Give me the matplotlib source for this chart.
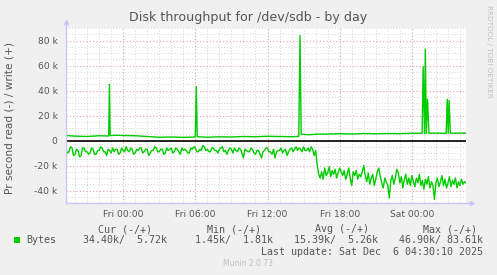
import matplotlib
matplotlib.use("Agg")
import matplotlib.pyplot as plt
import numpy as np
from matplotlib.ticker import MultipleLocator, FixedLocator, FuncFormatter

# ---------------- data (k = thousands of bytes per second) ----------------
title = "Disk throughput for /dev/sdb - by day"
ylabel = "Pr second read (-) / write (+)"

# hours relative to Fri 00:00
x_start_hour = -4.75
x_end_hour = 28.5
read_step_hours = 0.125

read_k = [
    7, 10, 9, 5, 6, 12, 11, 7, 8, 13, 12, 6, 6, 9, 9, 11,
    10, 6, 7, 11, 11, 8, 8, 5, 6, 9, 9, 12, 7, 8, 10, 6,
    9, 7, 7, 11, 10, 6, 8, 9, 5, 8, 9, 6, 7, 11, 10, 7,
    8, 6, 6, 10, 9, 7, 7, 12, 10, 8, 8, 5, 6, 9, 9, 7,
    7, 11, 10, 6, 8, 7, 6, 10, 9, 6, 7, 9, 11, 6, 8, 7,
    8, 10, 10, 6, 7, 5, 6, 9, 9, 7, 8, 4, 5, 8, 7, 9,
    9, 6, 6, 8, 8, 10, 7, 6, 5, 9, 8, 11, 8, 6, 7, 10,
    6, 8, 9, 6, 7, 10, 14, 7, 8, 9, 9, 6, 7, 10, 11, 8,
    8, 11, 14, 9, 8, 6, 6, 9, 9, 11, 7, 14, 9, 8, 8, 6,
    10, 8, 7, 12, 9, 7, 6, 9, 7, 5, 8, 6, 7, 9, 5, 8,
    8, 6, 9, 5, 7, 12, 8,
    19, 27, 30, 25, 31, 22, 28, 26, 21, 29, 24, 27, 23, 30, 26, 22,
    25, 28, 24, 31, 27, 22, 30, 36, 25, 28, 24, 31, 27, 29, 25, 20,
    28, 33, 26, 35, 30, 27, 36, 31, 25, 22, 29, 34, 38, 30, 33, 36,
    46, 32, 28, 35, 30, 23, 26, 34, 29, 38, 31, 27, 35, 30, 36, 28,
    33, 37, 30, 34, 27, 36, 32, 39, 31, 35, 29, 38, 33, 36, 47, 34,
    30, 37, 33, 28, 36, 31, 38, 34, 29, 37, 32, 35, 30, 38, 33, 36,
    31, 35, 33, 34,
]

write_hours = [
    -4.75, -4.0, -3.0, -2.0, -1.2, -1.14, -1.08, -0.5, 0.0, 1.0, 2.0, 3.0,
    4.0, 5.0, 6.0, 6.08, 6.16, 7.0, 8.0, 9.0, 10.0, 11.0, 12.0, 13.0,
    14.0, 14.6, 14.7, 14.8, 15.5, 16.0, 17.0, 18.0, 19.0, 20.0, 21.0, 22.0,
    23.0, 24.0, 24.85, 24.94, 25.05, 25.12, 25.2, 25.3, 25.42, 25.5, 25.6, 26.0,
    26.85, 26.94, 27.02, 27.1, 27.2, 27.6, 28.0, 28.5,
]
write_k = [
    4.0, 3.5, 3.2, 3.8, 3.6, 45, 4.0, 4.2, 4.0, 3.8, 3.2, 2.6,
    2.8, 2.5, 2.8, 43, 3.0, 2.6, 3.0, 2.8, 3.2, 3.0, 3.4, 3.2,
    3.0, 3.3, 84, 5.0, 4.6, 5.0, 5.2, 5.4, 5.2, 5.6, 5.4, 5.6,
    5.5, 5.8, 5.8, 59, 5.5, 73, 5.6, 33, 5.8, 6.0, 5.8, 5.9,
    5.8, 33, 5.8, 32, 5.9, 5.8, 6.0, 5.8,
]

xtick_hours = [0, 6, 12, 18, 24]
xtick_labels = ["Fri 00:00", "Fri 06:00", "Fri 12:00", "Fri 18:00", "Sat 00:00"]
ytick_values = [-40, -20, 0, 20, 40, 60, 80]

legend_headers = ["Cur (-/+)", "Min (-/+)", "Avg (-/+)", "Max (-/+)"]
legend_series = "Bytes"
legend_values = ["34.40k/  5.72k", "1.45k/  1.81k", "15.39k/  5.26k", "46.90k/ 83.61k"]
last_update = "Last update: Sat Dec  6 04:30:10 2025"
footer = "Munin 2.0.73"
side_text = "RRDTOOL / TOBI OETIKER"

# ---------------- style ----------------
W, H = 497, 275
BG = "#F0F0F0"
GREEN = "#00CC00"
TXT = "#555555"
AXC = "#C8C8F8"

fig = plt.figure(figsize=(W / 100, H / 100), dpi=100, facecolor=BG)
ax = fig.add_axes([66 / W, 1 - 203 / H, 400 / W, 175 / H])
ax.set_facecolor("white")
ax.set_xlim(x_start_hour, x_end_hour)
ax.set_ylim(-50, 90)

for s in ax.spines.values():
    s.set_visible(False)

# grid
ax.xaxis.set_major_locator(FixedLocator(xtick_hours))
ax.xaxis.set_minor_locator(MultipleLocator(1))
ax.yaxis.set_major_locator(FixedLocator(ytick_values))
ax.yaxis.set_minor_locator(MultipleLocator(5))
ax.grid(which="minor", color="#D4D4D4", linestyle=(0, (1, 2)), linewidth=0.7)
ax.grid(which="major", color="#E8A0A0", linestyle=(0, (1, 2)), linewidth=0.8)
ax.set_axisbelow(True)

ax.set_xticks(xtick_hours)
ax.set_xticklabels(xtick_labels)
ax.yaxis.set_major_formatter(FuncFormatter(lambda v, p: "0" if v == 0 else f"{int(v)} k"))
ax.tick_params(axis="both", which="both", length=0, colors=TXT, labelsize=6.6)
ax.tick_params(axis="y", which="major", pad=6)
ax.tick_params(axis="x", which="major", pad=5)

# data
read_hours = np.arange(len(read_k)) * read_step_hours + x_start_hour
ax.plot(read_hours, -np.array(read_k), color=GREEN, linewidth=1.0, zorder=3)
ax.plot(write_hours, write_k, color=GREEN, linewidth=1.0, zorder=3)
ax.axhline(0, color="black", linewidth=1.2, zorder=4)

# axes lines with arrows (Munin style)
ax.plot([0, 0], [0, 1.03], transform=ax.transAxes, color=AXC, linewidth=1, clip_on=False, zorder=5)
ax.plot([0, 1.012], [0, 0], transform=ax.transAxes, color=AXC, linewidth=1, clip_on=False, zorder=5)
ax.plot([0], [1.035], transform=ax.transAxes, marker="^", color=AXC, markersize=3, clip_on=False)
ax.plot([1.014], [0], transform=ax.transAxes, marker=">", color=AXC, markersize=3, clip_on=False)

# texts
fig.text(248 / W, 1 - 18 / H, title, ha="center", va="center", fontsize=9.1, color=TXT)
fig.text(10 / W, 1 - 118 / H, ylabel, rotation=90, ha="center", va="center", fontsize=7.6, color=TXT)
fig.text(489 / W, 1 - 5 / H, side_text, rotation=270, ha="center", va="top", fontsize=5.2, color="#C0C0C0")

mono = "DejaVu Sans Mono"
fs = 7.2
header_x = [98, 207, 315, 423]
for hx, t in zip(header_x, legend_headers):
    fig.text(hx / W, 1 - 229 / H, t, ha="left", va="center", family=mono, fontsize=fs, color=TXT)
fig.patches.append(plt.Rectangle((14 / W, 1 - 243 / H), 6 / W, 6 / H, transform=fig.transFigure,
                                 facecolor=GREEN, edgecolor="none"))
fig.text(26 / W, 1 - 240 / H, legend_series, ha="left", va="center", family=mono, fontsize=fs, color=TXT)
value_right = [167, 273, 378, 483]
for vx, t in zip(value_right, legend_values):
    fig.text(vx / W, 1 - 240 / H, t, ha="right", va="center", family=mono, fontsize=fs, color=TXT)
fig.text(483 / W, 1 - 252 / H, last_update, ha="right", va="center", family=mono, fontsize=fs, color=TXT)
fig.text(248 / W, 1 - 264 / H, footer, ha="center", va="center", fontsize=5.5, color="#C0C0C0")

fig.savefig("out.png", dpi=100, facecolor=BG)
